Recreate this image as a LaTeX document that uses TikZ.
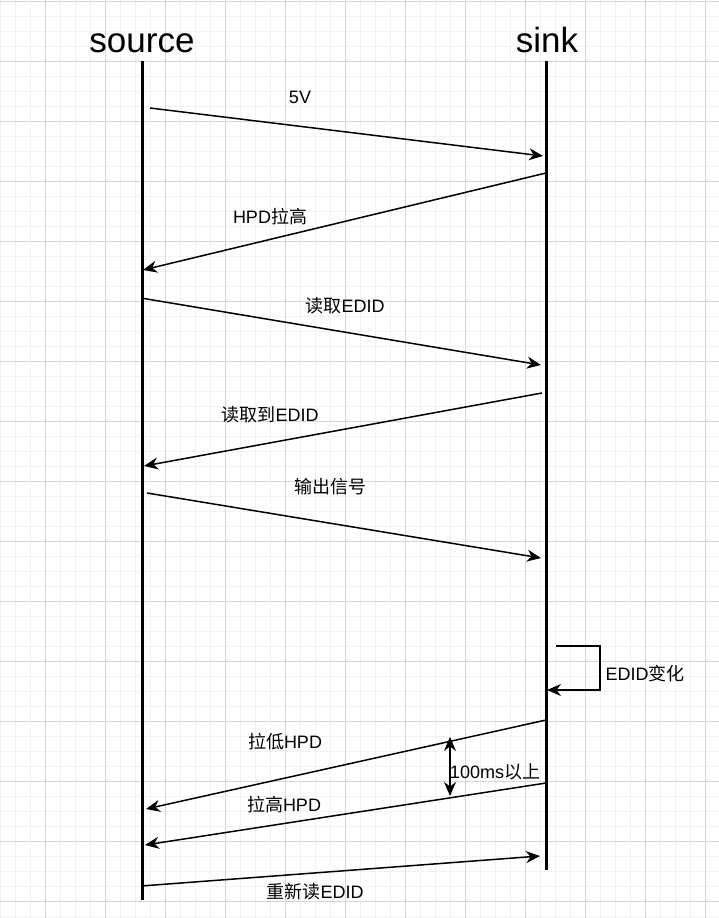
\documentclass[tikz,border=0pt]{standalone}
\usepackage{fontspec}
\setmainfont{Liberation Sans}
\newfontfamily\cjk{Noto Sans CJK SC}
\usetikzlibrary{arrows.meta}

\tikzset{
  minorgrid/.style={draw=black!5, line width=1pt},
  majorgrid/.style={draw=black!16, line width=1pt},
  lifeline/.style={line width=3pt},
  msg/.style={line width=1.5pt, -{Stealth[length=14pt,width=12pt,inset=4.5pt]}},
  span/.style={line width=1.5pt, {Stealth[length=14pt,width=12pt,inset=4.5pt]}-{Stealth[length=14pt,width=12pt,inset=4.5pt]}},
  msglabel/.style={font=\fontsize{18}{21}\selectfont, inner sep=0pt, anchor=base},
  title/.style={font=\fontsize{35}{40}\selectfont, inner sep=0pt, anchor=base},
}

\begin{document}
\begin{tikzpicture}[x=1pt, y=-1pt]
    \useasboundingbox (0,0) rectangle (719,918);
    % grid
    \foreach \i in {0,15,...,719} \draw[minorgrid] (\i,0) -- (\i,918);
    \foreach \j in {1,16,...,918} \draw[minorgrid] (0,\j) -- (719,\j);
    \foreach \i in {45,105,...,719} \draw[majorgrid] (\i,0) -- (\i,918);
    \foreach \j in {1,61,...,918} \draw[majorgrid] (0,\j) -- (719,\j);

    % lifelines
    \node[title] (source) at (142,52) {source};
    \node[title] (sink) at (547,52) {sink};
    \coordinate (srcTop) at (142,61);
    \coordinate (srcEnd) at (142,900);
    \coordinate (snkTop) at (546,61);
    \coordinate (snkEnd) at (546,870);
    \draw[lifeline] (srcTop) -- (srcEnd);
    \draw[lifeline] (snkTop) -- (snkEnd);

    % messages
    \coordinate (v5a) at (150,108);
    \coordinate (v5b) at (543,156);
    \draw[msg] (v5a) -- (v5b);
    \node[msglabel] (v5) at (300,103) {5V};

    \coordinate (hpdUpA) at (546,173);
    \coordinate (hpdUpB) at (143,270);
    \draw[msg] (hpdUpA) -- (hpdUpB);
    \node[msglabel] (hpdUp) at (270,223) {HPD{\cjk 拉高}};

    \coordinate (readA) at (141,298);
    \coordinate (readB) at (541,365);
    \draw[msg] (readA) -- (readB);
    \node[msglabel] (read) at (345,312) {{\cjk 读取}EDID};

    \coordinate (gotA) at (542,393);
    \coordinate (gotB) at (144,466);
    \draw[msg] (gotA) -- (gotB);
    \node[msglabel] (got) at (270,421) {{\cjk 读取到}EDID};

    \coordinate (outA) at (147,493);
    \coordinate (outB) at (541,558);
    \draw[msg] (outA) -- (outB);
    \node[msglabel] (out) at (330,493) {{\cjk 输出信号}};

    % EDID change on the sink
    \coordinate (chgA) at (556,646);
    \coordinate (chgB) at (547,690);
    \draw[msg] (chgA) -- (600,646) -- (600,690) -- (chgB);
    \node[msglabel] (chg) at (645,680) {EDID{\cjk 变化}};

    \coordinate (lowA) at (546,720);
    \coordinate (lowB) at (146,809);
    \draw[msg] (lowA) -- (lowB);
    \node[msglabel] (low) at (285,748) {{\cjk 拉低}HPD};

    \coordinate (highA) at (546,783);
    \coordinate (highB) at (145,845);
    \draw[msg] (highA) -- (highB);
    \node[msglabel] (high) at (284,811) {{\cjk 拉高}HPD};

    \coordinate (gapA) at (450,737);
    \coordinate (gapB) at (450,796);
    \draw[span] (gapA) -- (gapB);
    \node[msglabel] (gap) at (495,778) {100ms{\cjk 以上}};

    \coordinate (rereadA) at (141,886);
    \coordinate (rereadB) at (540,856);
    \draw[msg] (rereadA) -- (rereadB);
    \node[msglabel] (reread) at (315,898) {{\cjk 重新读}EDID};
\end{tikzpicture}
\end{document}
